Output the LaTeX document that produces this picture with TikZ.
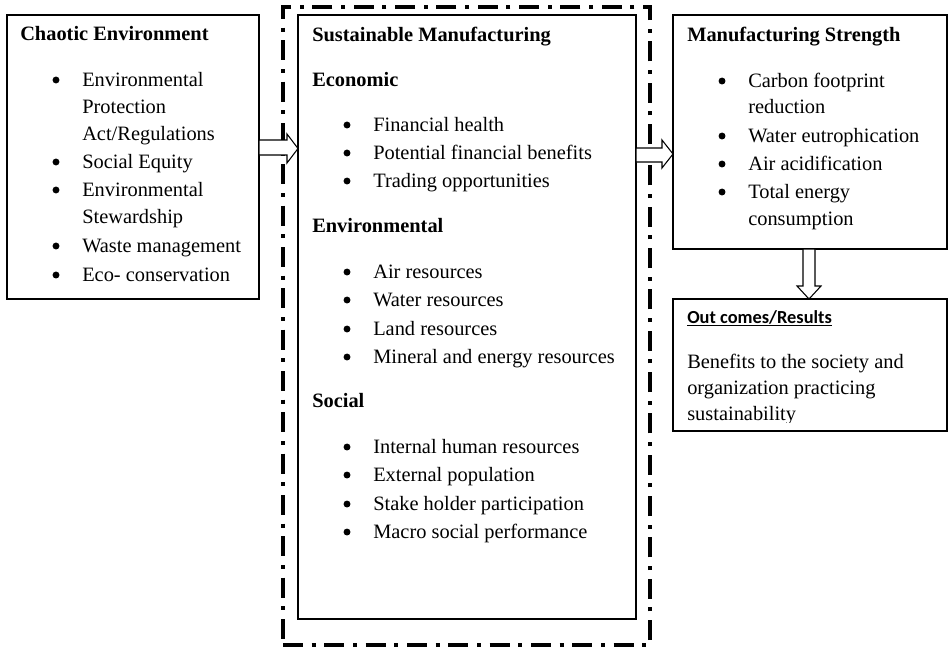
\documentclass[tikz,border=0pt]{standalone}
\usepackage{fontspec}
\setmainfont{Liberation Serif}
\newfontfamily\calib{Carlito}
\usetikzlibrary{calc}
\tikzset{
  box/.style={draw=black, line width=1pt, inner sep=0, outer sep=0, anchor=north west, fill=none},
  frame/.style={draw=black, line width=3pt, inner sep=0, outer sep=0, anchor=north west,
    dash pattern=on 15pt off 6.5pt on 3pt off 6.5pt},
  txt/.style={inner sep=0, anchor=base west, font=\fontsize{15.3}{18}\selectfont},
  hd/.style={inner sep=0, anchor=base west, font=\fontsize{15.3}{18}\selectfont\bfseries},
  bul/.style={circle, fill=black, inner sep=0, minimum size=5.2pt},
  hollow/.style={draw=black, line width=0.8pt, fill=white, line join=miter}
}
\newcommand\bli[4]{\node[bul] (#1b) at (#2,#3-6) {}; \node[txt] (#1) at (#2+26,#3) {#4};}
\begin{document}
\begin{tikzpicture}[x=0.75pt,y=-0.75pt]
\useasboundingbox (0,0) rectangle (948,647);
% boxes
\node[box, minimum width=189pt, minimum height=213pt] (L) at (7,15) {};
\node[frame, minimum width=275.25pt, minimum height=478.5pt] (F) at (283,7) {};
\node[box, minimum width=253.5pt, minimum height=453pt] (I) at (298,15) {};
\node[box, minimum width=205.5pt, minimum height=175.5pt] (M) at (673,15) {};
\node[box, minimum width=205.5pt, minimum height=99pt] (O) at (673,299) {};
% arrows
\draw[hollow] (L.north east |- 0,140) -- ++(28,0) -- ++(0,-6) -- (I.north west |- 0,148.5)
  -- ++(-11,14.5) -- ++(0,-8) -- (L.north east |- 0,155) -- cycle;
\draw[hollow] (I.north east |- 0,148) -- ++(26,0) -- ++(0,-8) -- (M.north west |- 0,154)
  -- ++(-11,14) -- ++(0,-6) -- (I.north east |- 0,162) -- cycle;
\draw[hollow] (803,0 |- M.south) -- ++(0,37) -- ++(-6,0) -- (O.north -| 809,0)
  -- ++(12,-13) -- ++(-6,0) -- (815,0 |- M.south) -- cycle;
% left box text
\node[hd] (Lh) at (20,40) {Chaotic Environment};
\bli{l1}{56}{86}{Environmental}
\node[txt] (l1b2) at (82,113) {Protection};
\node[txt] (l1b3) at (82,140) {Act/Regulations};
\bli{l2}{56}{168}{Social Equity}
\bli{l3}{56}{196}{Environmental}
\node[txt] (l3b2) at (82,223) {Stewardship};
\bli{l4}{56}{252}{Waste management}
\bli{l5}{56}{281}{Eco- conservation}
% inner box text
\node[hd] (Ih) at (312,41) {Sustainable Manufacturing};
\node[hd] (Ie) at (312,86) {Economic};
\bli{e1}{347}{131}{Financial health}
\bli{e2}{347}{159}{Potential financial benefits}
\bli{e3}{347}{187}{Trading opportunities}
\node[hd] (Iv) at (312,232) {Environmental};
\bli{v1}{347}{278}{Air resources}
\bli{v2}{347}{306}{Water resources}
\bli{v3}{347}{335}{Land resources}
\bli{v4}{347}{363}{Mineral and energy resources}
\node[hd] (Is) at (312,407) {Social};
\bli{s1}{347}{453}{Internal human resources}
\bli{s2}{347}{481}{External population}
\bli{s3}{347}{510}{Stake holder participation}
\bli{s4}{347}{538}{Macro social performance}
% right box text
\node[hd] (Mh) at (687,41) {Manufacturing Strength};
\bli{m1}{722}{87}{Carbon footprint}
\node[txt] (m1b2) at (748,113) {reduction};
\bli{m2}{722}{142}{Water eutrophication}
\bli{m3}{722}{170}{Air acidification}
\bli{m4}{722}{198}{Total energy}
\node[txt] (m4b2) at (748,225) {consumption};
% outcomes
\node[inner sep=0, anchor=base west, font=\calib\bfseries\fontsize{13.8}{16}\selectfont] (Oh) at (687,323) {\underline{Out comes/Results}};
\node[txt] (o1) at (687,368) {Benefits to the society and};
\node[txt] (o2) at (687,394) {organization practicing};
\begin{scope}
\clip (675,400) rectangle (945,422);
\node[txt] (o3) at (687,420) {sustainability};
\end{scope}
\end{tikzpicture}
\end{document}
